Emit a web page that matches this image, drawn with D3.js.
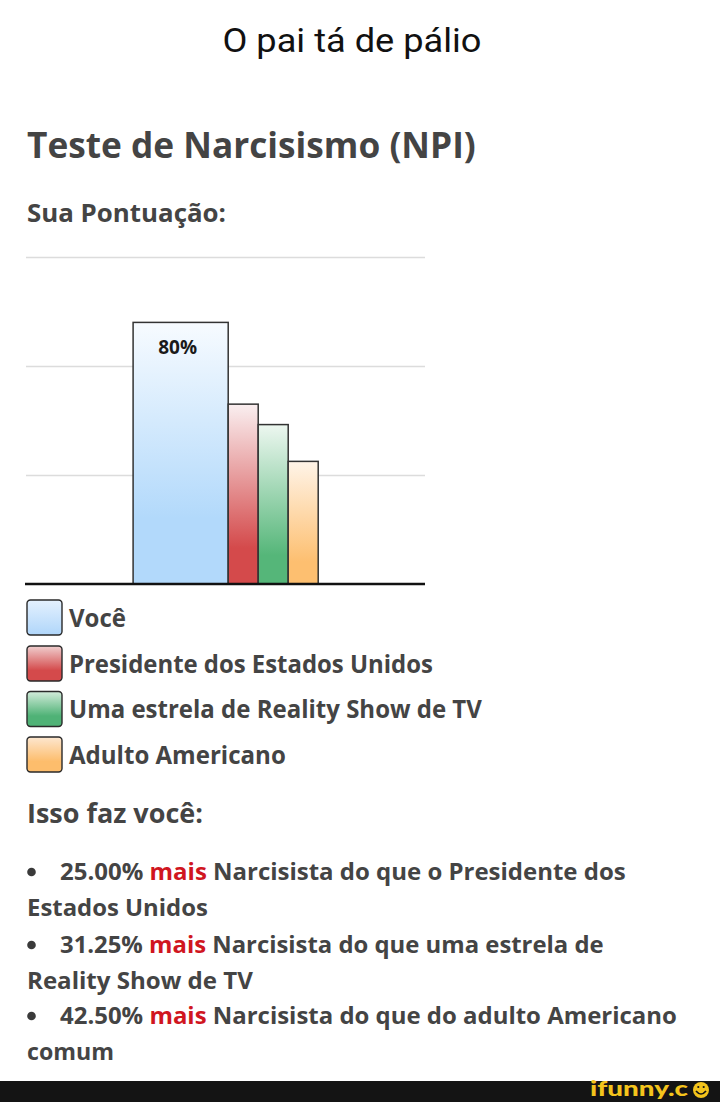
<!DOCTYPE html>
<html>
<head>
<meta charset="utf-8">
<script src="https://cdn.jsdelivr.net/npm/d3@7"></script>
<style>
  html, body { margin: 0; padding: 0; background: #fff; }
  svg { display: block; }
</style>
</head>
<body>
<svg id="chart" width="720" height="1102"></svg>
<script>
// ---- data ----
const categories = ["Você", "Presidente dos Estados Unidos", "Uma estrela de Reality Show de TV", "Adulto Americano"];
const values = [80, 55, 48.75, 37.5];
const valueLabels = ["80%", "", "", ""];
const gridTicks = [100 / 3, 200 / 3, 100];
const diffPercents = ["25.00%", "31.25%", "42.50%"];
const diffTargets = ["Narcisista do que o Presidente dos", "Narcisista do que uma estrela de", "Narcisista do que do adulto Americano"];
const diffContinuations = ["Estados Unidos", "Reality Show de TV", "comum"];

// ---- styles ----
const gradStops = [
  [["0%", "#f7fbff"], ["75%", "#b2d9fb"], ["100%", "#b2d9fb"]],
  [["0%", "#faeff0"], ["80%", "#d44a4b"], ["100%", "#d44a4b"]],
  [["0%", "#edf7f0"], ["82%", "#55b679"], ["100%", "#55b679"]],
  [["0%", "#fff4e8"], ["82%", "#fdbf70"], ["100%", "#fdbf70"]]
];
const swatchStops = [
  [["0%", "#e4f1fe"], ["100%", "#b0d6fa"]],
  [["0%", "#f0cfcf"], ["70%", "#d44a4b"], ["100%", "#d44a4b"]],
  [["0%", "#d3ecdb"], ["70%", "#4fb276"], ["100%", "#4fb276"]],
  [["0%", "#fde7d0"], ["70%", "#fdbd6c"], ["100%", "#fdbd6c"]]
];
const barWeights = [3.17, 1, 1, 1];
const textCol = "#444";
const headFont = "'Open Sans', 'Noto Sans', sans-serif";

const svg = d3.select("#chart");
svg.append("rect").attr("width", 720).attr("height", 1102).attr("fill", "#fff");
const defs = svg.append("defs");

function mkGrad(id, stops) {
  const g = defs.append("linearGradient").attr("id", id)
    .attr("x1", 0).attr("y1", 0).attr("x2", 0).attr("y2", 1);
  stops.forEach(s => g.append("stop").attr("offset", s[0]).attr("stop-color", s[1]));
}
gradStops.forEach((s, i) => mkGrad("bar" + i, s));
swatchStops.forEach((s, i) => mkGrad("sw" + i, s));

// fit helper: scale text horizontally to a target width
function fitText(sel, x0, width, anchor) {
  const node = sel.node();
  const w = node.getComputedTextLength();
  const k = width / w;
  const y = +sel.attr("y");
  sel.attr("x", 0).attr("y", 0)
     .attr("transform", `translate(${anchor === "middle" ? x0 - width / 2 : x0},${y}) scale(${k},1)`);
  return sel;
}

// ---- titles ----
fitText(svg.append("text").attr("y", 52).attr("font-family", "Roboto, sans-serif")
  .attr("font-size", 33).attr("fill", "#111").text("O pai tá de pálio"), 352, 259, "middle");

fitText(svg.append("text").attr("y", 158).attr("font-family", headFont).attr("font-weight", 700)
  .attr("font-size", 35).attr("fill", textCol).text("Teste de Narcisismo (NPI)"), 27, 449);

fitText(svg.append("text").attr("y", 221.5).attr("font-family", headFont).attr("font-weight", 700)
  .attr("font-size", 24.5).attr("fill", textCol).text("Sua Pontuação:"), 27, 199);

// ---- chart ----
const plot = { left: 26, right: 425, top: 257, bottom: 584 };
const y = d3.scaleLinear().domain([0, 100]).range([plot.bottom, plot.top]);
const unitTotal = 13.3;
const x = d3.scaleLinear().domain([0, unitTotal]).range([plot.left, plot.right]);
const startUnit = 3.57;
const starts = [];
let acc = startUnit;
barWeights.forEach(w => { starts.push(acc); acc += w; });

const grid = svg.append("g")
  .attr("transform", `translate(${plot.left},0)`)
  .call(d3.axisLeft(y).tickValues(gridTicks).tickSize(-(plot.right - plot.left)).tickFormat(""));
grid.select(".domain").remove();
grid.selectAll(".tick line").attr("stroke", "#dcdcdc").attr("stroke-width", 1.3);

svg.selectAll("rect.bar").data(values).enter().append("rect")
  .attr("class", "bar")
  .attr("x", (d, i) => x(starts[i]))
  .attr("width", (d, i) => x(starts[i] + barWeights[i]) - x(starts[i]))
  .attr("y", d => y(d))
  .attr("height", d => y(0) - y(d))
  .attr("fill", (d, i) => `url(#bar${i})`)
  .attr("stroke", "#333").attr("stroke-width", 1.5);

svg.selectAll("text.vlab").data(values).enter().append("text")
  .attr("class", "vlab")
  .attr("x", (d, i) => x(starts[i] + barWeights[i] / 2) - 3)
  .attr("y", d => y(d) + 31.5)
  .attr("text-anchor", "middle")
  .attr("font-family", "'Open Sans', Roboto, sans-serif").attr("font-weight", 700)
  .attr("font-size", 19).attr("fill", "#1a1a1a")
  .text((d, i) => valueLabels[i]);

svg.append("line")
  .attr("x1", plot.left - 1).attr("x2", plot.right)
  .attr("y1", y(0)).attr("y2", y(0))
  .attr("stroke", "#111").attr("stroke-width", 2.6);

// ---- legend ----
const legY = [600, 646, 691.5, 737];
const legW = [57, 364, 413, 217];
categories.forEach((c, i) => {
  svg.append("rect").attr("x", 27).attr("y", legY[i]).attr("width", 35).attr("height", 35)
    .attr("rx", 3.5).attr("fill", `url(#sw${i})`).attr("stroke", "#2a2a2a").attr("stroke-width", 1.4);
  fitText(svg.append("text").attr("y", legY[i] + 26.5).attr("font-family", headFont).attr("font-weight", 700)
    .attr("font-size", 25).attr("fill", textCol).text(c), 69, legW[i]);
});

// ---- summary ----
fitText(svg.append("text").attr("y", 823).attr("font-family", headFont).attr("font-weight", 700)
  .attr("font-size", 27).attr("fill", textCol).text("Isso faz você:"), 27, 176);

const lineBase = [880, 953, 1024];
const lineW = [566, 544, 617];
const contW = [181, 226, 87];
diffPercents.forEach((p, i) => {
  svg.append("circle").attr("cx", 31.5).attr("cy", lineBase[i] - 8).attr("r", 4.3).attr("fill", "#3a3a3a");
  const t = svg.append("text").attr("y", lineBase[i]).attr("font-family", headFont).attr("font-weight", 700)
    .attr("font-size", 24).attr("fill", textCol);
  t.append("tspan").text(p + " ");
  t.append("tspan").attr("fill", "#d0161f").text("mais");
  t.append("tspan").text(" " + diffTargets[i]);
  fitText(t, 60, lineW[i]);
  fitText(svg.append("text").attr("y", lineBase[i] + 36).attr("font-family", headFont).attr("font-weight", 700)
    .attr("font-size", 24).attr("fill", textCol).text(diffContinuations[i]), 27, contW[i]);
});

// ---- footer ----
svg.append("rect").attr("x", 0).attr("y", 1081).attr("width", 720).attr("height", 21).attr("fill", "#141414");
const logo = svg.append("g");
fitText(logo.append("text").attr("y", 1096).attr("font-family", "Lato, Roboto, sans-serif").attr("font-weight", 900)
  .attr("font-size", 21).attr("fill", "#f4c41c").text("ifunny.c"), 590, 98);
logo.append("circle").attr("cx", 701).attr("cy", 1090).attr("r", 8).attr("fill", "#f4c41c");
logo.append("path").attr("d", "M696,1091 Q701,1097 706,1091").attr("fill", "none").attr("stroke", "#141414").attr("stroke-width", 1.7);
logo.append("circle").attr("cx", 698.3).attr("cy", 1087).attr("r", 1.1).attr("fill", "#141414");
logo.append("circle").attr("cx", 703.7).attr("cy", 1087).attr("r", 1.1).attr("fill", "#141414");
</script>
</body>
</html>
